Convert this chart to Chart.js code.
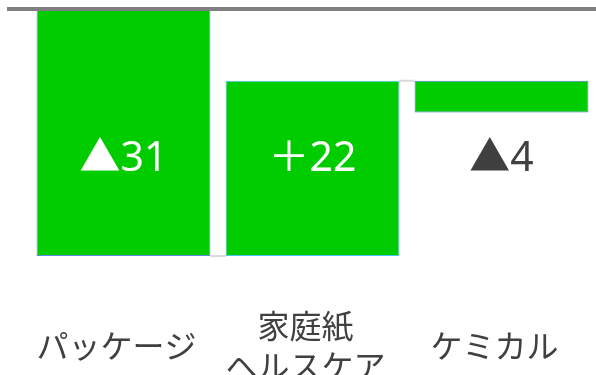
<!DOCTYPE html>
<html>
<head>
<meta charset="utf-8">
<script src="https://cdn.jsdelivr.net/npm/chart.js@4/dist/chart.umd.min.js"></script>
<style>
  html, body { margin: 0; padding: 0; background: #ffffff; }
  #wrap { width: 596px; height: 375px; position: relative; }
</style>
</head>
<body>
<div id="wrap"><canvas id="chart"></canvas></div>
<script>
// Segment names (multi-line names are given as arrays of lines)
const categories = ['パッケージ', ['家庭紙', 'ヘルスケア'], 'ケミカル'];
// Change contributed by each segment
const changes = [-31, 22, -4];
// Value axis range
const yMin = -37.26;
const yMax = 0;
// Height (in axis units) at which the change labels sit
const labelLevel = -18.9;

// Running totals: each bar floats from the previous total to the new one
const starts = [];
const ends = [];
let running = 0;
changes.forEach(v => {
  starts.push(running);
  running += v;
  ends.push(running);
});
const floatingBars = changes.map((v, i) => [starts[i], ends[i]]);
const changeText = changes.map(v => (v < 0 ? '▲' : '＋') + Math.abs(v));

const waterfallDecor = {
  id: 'waterfallDecor',
  beforeDatasetsDraw(chart) {
    const { ctx } = chart;
    const y = chart.scales.y;
    const bars = chart.getDatasetMeta(0).data;
    ctx.save();
    ctx.strokeStyle = '#d9d9d9';
    ctx.lineWidth = 2;
    for (let i = 0; i < bars.length - 1; i++) {
      const a = bars[i], b = bars[i + 1];
      const yy = y.getPixelForValue(ends[i]);
      ctx.beginPath();
      ctx.moveTo(a.x + a.width / 2, yy);
      ctx.lineTo(b.x - b.width / 2, yy);
      ctx.stroke();
    }
    ctx.restore();
  },
  afterDatasetsDraw(chart) {
    const { ctx, chartArea } = chart;
    const y = chart.scales.y;
    const bars = chart.getDatasetMeta(0).data;
    ctx.save();
    // zero baseline across the top
    const y0 = y.getPixelForValue(0);
    ctx.strokeStyle = '#808080';
    ctx.lineWidth = 4;
    ctx.beginPath();
    ctx.moveTo(chartArea.left - 22, y0);
    ctx.lineTo(chart.width, y0);
    ctx.stroke();
    // change labels
    ctx.font = '41px "Noto Sans", "Noto Sans CJK JP", sans-serif';
    ctx.textAlign = 'center';
    ctx.textBaseline = 'middle';
    const ly = y.getPixelForValue(labelLevel);
    bars.forEach((bar, i) => {
      const lo = Math.min(starts[i], ends[i]);
      const hi = Math.max(starts[i], ends[i]);
      const inside = labelLevel >= lo && labelLevel <= hi;
      ctx.fillStyle = inside ? '#ffffff' : '#404040';
      ctx.fillText(changeText[i], bar.x, ly);
    });
    ctx.restore();
  }
};

new Chart(document.getElementById('chart'), {
  type: 'bar',
  data: {
    labels: categories,
    datasets: [{
      data: floatingBars,
      backgroundColor: '#00cc00',
      borderColor: ['#5a8ee0', '#4fc3f7', '#4a78d0'],
      borderWidth: 1,
      borderSkipped: false,
      barPercentage: 0.92,
      categoryPercentage: 1.0
    }]
  },
  options: {
    responsive: true,
    maintainAspectRatio: false,
    animation: false,
    layout: { padding: { left: 29, right: 0, top: 9, bottom: 0 } },
    plugins: {
      legend: { display: false },
      tooltip: { enabled: false }
    },
    scales: {
      x: {
        grid: { display: false, drawTicks: false },
        border: { display: false },
        ticks: {
          color: '#404040',
          font: { family: '"Noto Sans CJK JP", "Noto Sans", sans-serif', size: 32, lineHeight: 1.25 },
          padding: 20,
          crossAlign: 'center',
          labelOffset: -7,
          maxRotation: 0,
          autoSkip: false
        },
        afterFit(scale) { scale.height = 69; }
      },
      y: {
        display: false,
        min: yMin,
        max: yMax
      }
    }
  },
  plugins: [waterfallDecor]
});
</script>
</body>
</html>
